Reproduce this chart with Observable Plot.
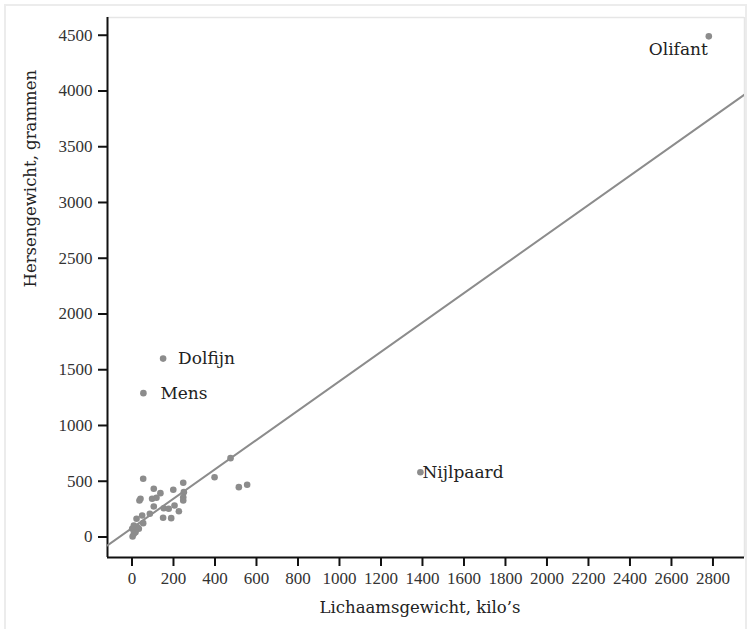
<!DOCTYPE html>
<html><head><meta charset="utf-8">
<script src="https://cdn.jsdelivr.net/npm/d3@7"></script>
<script src="https://cdn.jsdelivr.net/npm/@observablehq/plot@0.6"></script>
<style>
body{margin:0;background:#fff;}
#frame{position:absolute;left:4px;top:4px;width:739px;height:640px;border:2px solid #ececec;}
#chart{position:absolute;left:0;top:0;}
</style></head><body><div id="frame"></div><div id="chart"></div>
<script>
// Body weight (kg) and brain weight (g)
const bodyKg  = [54,247,105,137,199,41,36,97,118,250,247,247,205,105,153,177,226,86,49,22,150,189,54,9,25,1,33,17,9,3,475,398,515,555,55,150,1390,2780];
const brainG  = [522,486,432,393,423,343,327,343,352,402,357,327,283,274,258,253,231,208,193,163,172,169,124,103,88,74,74,43,29,5,707,536,447,468,1290,1600,580,4490];
const animal  = ["","","","","","","","","","","","","","","","","","","","","","","","","","","","","","","","","","","Mens","Dolfijn","Nijlpaard","Olifant"];
const xTicks = [0,200,400,600,800,1000,1200,1400,1600,1800,2000,2200,2400,2600,2800];
const yTicks = [0,500,1000,1500,2000,2500,3000,3500,4000,4500];
const xLabel = "Lichaamsgewicht, kilo’s";
const yLabel = "Hersengewicht, grammen";
const regIntercept = 80;
const regSlope = 1.317;

const xDomain = [-118, 2952];
const yDomain = [-184, 4659];

const data = bodyKg.map((b, i) => ({body: b, brain: brainG[i], name: animal[i]}));
const regLine = xDomain.map(x => ({body: x, brain: regIntercept + regSlope * x}));
const named = n => data.filter(d => d.name === n);

const grey = "#8c8c8c";
const serif = "DejaVu Serif";
const textStyle = {fill: "#222", fontSize: 17, fontFamily: serif, lineAnchor: "middle"};
const labelStyle = {fill: "#222", fontSize: 16.5, fontFamily: serif, lineAnchor: "middle"};

const chart = Plot.plot({
  width: 751, height: 629,
  marginLeft: 107, marginRight: 7, marginTop: 17, marginBottom: 72,
  style: {fontFamily: "Liberation Serif", fontSize: "17px", color: "#333", background: "transparent"},
  x: {domain: xDomain},
  y: {domain: yDomain},
  marks: [
    Plot.ruleY([yDomain[1]], {stroke: "#e6e6e6", strokeWidth: 1.5}),
    Plot.ruleX([xDomain[1]], {stroke: "#e6e6e6", strokeWidth: 1.5}),
    Plot.axisX({ticks: xTicks, tickFormat: d => String(d), tickSize: 9, tickPadding: 5, strokeWidth: 2, stroke: "#111", label: null, fill: "#333"}),
    Plot.axisY({ticks: yTicks, tickFormat: d => String(d), tickSize: 9, tickPadding: 6, strokeWidth: 2, stroke: "#111", label: null, fill: "#333"}),
    Plot.ruleY([yDomain[0]], {stroke: "#111", strokeWidth: 2}),
    Plot.ruleX([xDomain[0]], {stroke: "#111", strokeWidth: 2}),
    Plot.line(regLine, {x: "body", y: "brain", stroke: grey, strokeWidth: 2, clip: true}),
    Plot.dot(data, {x: "body", y: "brain", r: 3.3, fill: grey, stroke: "none"}),
    Plot.text(named("Olifant"), {x: "body", y: "brain", text: "name", textAnchor: "end", dx: -1, dy: 13, ...textStyle}),
    Plot.text(named("Dolfijn"), {x: "body", y: "brain", text: "name", textAnchor: "start", dx: 15, dy: 0, ...textStyle}),
    Plot.text(named("Mens"), {x: "body", y: "brain", text: "name", textAnchor: "start", dx: 17, dy: 0, ...textStyle}),
    Plot.text(named("Nijlpaard"), {x: "body", y: "brain", text: "name", textAnchor: "start", dx: 2, dy: 0, ...textStyle}),
    Plot.text([xLabel], {frameAnchor: "bottom", dy: 50, dx: -6, ...labelStyle}),
    Plot.text([yLabel], {frameAnchor: "left", dx: -77, rotate: -90, ...labelStyle})
  ]
});
document.getElementById("chart").appendChild(chart);
</script>
</body></html>
